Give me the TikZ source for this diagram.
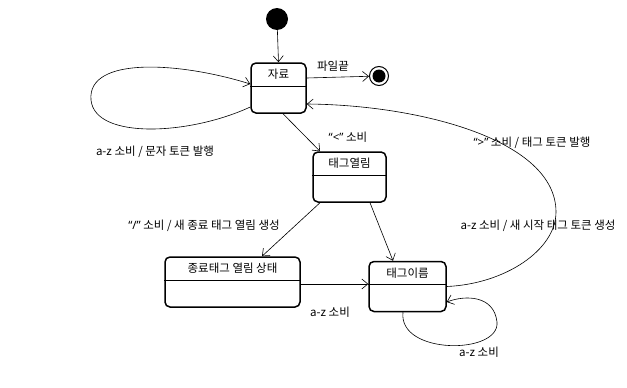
\documentclass[tikz,border=0pt]{standalone}
\usepackage{fontspec}
\setmainfont{Noto Sans CJK KR}
\newfontfamily\latinfont{Noto Sans}
\newcommand{\qt}[1]{{\latinfont “#1”}}
\usetikzlibrary{arrows.meta, positioning}

\begin{document}
\begin{tikzpicture}[x=1pt, y=-1pt, font=\fontsize{11.5}{13}\selectfont,
    state/.style={draw, line width=1.5pt, rounded corners=5pt, minimum height=50pt, inner sep=0pt},
    divider/.style={line width=0.8pt},
    arrow/.style={-{Straight Barb[length=6pt, width=10pt]}, line width=0.6pt},
    lbl/.style={inner sep=1pt}]
    \useasboundingbox (0,0) rectangle (627,388);

    % start / end
    \node[circle, fill, minimum size=22pt, inner sep=0pt] (start) at (277,19) {};
    \node[circle, draw, line width=1pt, minimum size=19pt, inner sep=0pt] (final) at (379,76) {};
    \node[circle, fill, minimum size=13pt, inner sep=0pt] (finaldot) at (final) {};

    % states
    \node[state, minimum width=55pt] (jaryo) at (278.5,88) {};
    \node (jaryoname) at ([yshift=-12pt]jaryo.north) {자료};
    \draw[divider] ([yshift=-24pt]jaryo.north west) -- ([yshift=-24pt]jaryo.north east);

    \node[state, minimum width=73pt] (tagopen) at (349.5,177) {};
    \node (tagopenname) at ([yshift=-12pt]tagopen.north) {태그열림};
    \draw[divider] ([yshift=-24pt]tagopen.north west) -- ([yshift=-24pt]tagopen.north east);

    \node[state, minimum width=135pt] (endopen) at (232.5,282) {};
    \node (endopenname) at ([yshift=-12pt]endopen.north) {종료태그 열림 상태};
    \draw[divider] ([yshift=-24pt]endopen.north west) -- ([yshift=-24pt]endopen.north east);

    \node[state, minimum width=77pt] (tagname) at (407.5,286.5) {};
    \node (tagnamename) at ([yshift=-12pt]tagname.north) {태그이름};
    \draw[divider] ([yshift=-24pt]tagname.north west) -- ([yshift=-24pt]tagname.north east);

    % transitions
    \draw[arrow] (start) -- (jaryo.north);
    \draw[arrow] ([yshift=10pt]jaryo.east) -- (final);
    \draw[arrow] ([yshift=-19pt]jaryo.west) .. controls (190,135) and (95,140) .. (91,100)
        .. controls (87,56) and (180,62) .. ([yshift=4pt]jaryo.west);
    \draw[arrow] ([xshift=4.5pt]jaryo.south) -- ([xshift=-29.5pt]tagopen.north);
    \draw[arrow] ([xshift=-29.5pt]tagopen.south) -- ([xshift=29.5pt]endopen.north);
    \draw[arrow] ([xshift=20.5pt]tagopen.south) -- ([xshift=-14.5pt]tagname.north);
    \draw[arrow] ([yshift=-2pt]endopen.east) -- ([yshift=-2pt]endopen.east -| tagname.west);
    \draw[arrow] ([xshift=-4.5pt]tagname.south) .. controls (398,355) and (500,355) .. (497,322)
        .. controls (494,295) and (465,295) .. ([yshift=-15.5pt]tagname.east);
    \draw[arrow] (tagname.east) .. controls (505,284) and (556,250) .. (556,212)
        .. controls (556,140) and (420,105) .. ([yshift=-16pt]jaryo.east);

    % labels
    \node[lbl] (eoflbl) at (333,66) {파일끝};
    \node[lbl] (textlbl) at (155,152) {a-z 소비 / 문자 토큰 발행};
    \node[lbl] (ltlbl) at (348,137) {\qt{<} 소비};
    \node[lbl] (slashlbl) at (204,226) {\qt{/} 소비 / 새 종료 태그 열림 생성};
    \node[lbl] (endazlbl) at (330,312) {a-z 소비};
    \node[lbl] (loopazlbl) at (479,352) {a-z 소비};
    \node[lbl] (gtlbl) at (532,143) {\qt{>} 소비 / 태그 토큰 발행};
    \node[lbl] (startazlbl) at (538,226) {a-z 소비 / 새 시작 태그 토큰 생성};
\end{tikzpicture}
\end{document}
